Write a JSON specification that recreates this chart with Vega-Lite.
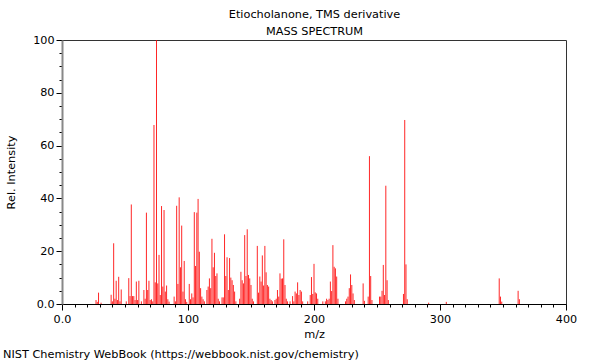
{
  "$schema": "https://vega.github.io/schema/vega-lite/v6.json",
  "width": 504,
  "height": 264,
  "autosize": {"type": "none"},
  "padding": {"left": 62, "top": 40, "right": 34, "bottom": 56},
  "background": "white",
  "config": {
    "font": "DejaVu Sans",
    "view": {"stroke": "#333", "strokeWidth": 1},
    "axis": {"labelFont": "DejaVu Sans", "titleFont": "DejaVu Sans", "labelFontSize": 11.2, "titleFontSize": 11.3, "titleFontWeight": "normal", "labelColor": "#000", "titleColor": "#000", "grid": false, "domainColor": "#000", "tickColor": "#000"}
  },
  "title": {"text": "NIST Chemistry WebBook (https://webbook.nist.gov/chemistry)", "orient": "bottom", "anchor": "start", "frame": "group", "dx": -59, "offset": 9, "fontSize": 11.3, "fontWeight": "normal", "font": "DejaVu Sans", "color": "#000"},
  "data": {"values": [
    {"mz":27,"intensity":1.5},{"mz":28,"intensity":0.8},{"mz":29,"intensity":4.3},{"mz":31,"intensity":0.5},
    {"mz":39,"intensity":3.5},{"mz":40,"intensity":1},{"mz":41,"intensity":23},{"mz":42,"intensity":2},{"mz":43,"intensity":8.8},{"mz":44,"intensity":1.5},{"mz":45,"intensity":10.3},{"mz":46,"intensity":1},{"mz":47,"intensity":5.5},
    {"mz":51,"intensity":1},{"mz":53,"intensity":9.8},{"mz":54,"intensity":3},{"mz":55,"intensity":37.7},{"mz":56,"intensity":3},{"mz":57,"intensity":3},{"mz":58,"intensity":1.5},{"mz":59,"intensity":8.5},{"mz":60,"intensity":1.5},{"mz":61,"intensity":8.8},{"mz":63,"intensity":1},
    {"mz":65,"intensity":5.3},{"mz":66,"intensity":2},{"mz":67,"intensity":34.6},{"mz":68,"intensity":5.3},{"mz":69,"intensity":8.8},{"mz":70,"intensity":1.5},{"mz":71,"intensity":1.8},{"mz":72,"intensity":1},{"mz":73,"intensity":67.8},{"mz":74,"intensity":8.2},{"mz":75,"intensity":100},{"mz":76,"intensity":7.8},{"mz":77,"intensity":18.6},{"mz":78,"intensity":3.4},{"mz":79,"intensity":37.1},{"mz":80,"intensity":6.6},{"mz":81,"intensity":35.6},{"mz":82,"intensity":4.7},{"mz":83,"intensity":7},{"mz":84,"intensity":1.8},{"mz":85,"intensity":0.9},
    {"mz":89,"intensity":2.8},{"mz":90,"intensity":1},{"mz":91,"intensity":37.2},{"mz":92,"intensity":7.6},{"mz":93,"intensity":40.4},{"mz":94,"intensity":13.9},{"mz":95,"intensity":29.7},{"mz":96,"intensity":4.7},{"mz":97,"intensity":16.3},{"mz":98,"intensity":1.8},{"mz":99,"intensity":0.8},
    {"mz":101,"intensity":7.6},{"mz":102,"intensity":1.8},{"mz":103,"intensity":4},{"mz":104,"intensity":2.5},{"mz":105,"intensity":34.8},{"mz":106,"intensity":14.4},{"mz":107,"intensity":34.6},{"mz":108,"intensity":39.8},{"mz":109,"intensity":19.8},{"mz":110,"intensity":6},{"mz":111,"intensity":2.8},{"mz":112,"intensity":1.8},{"mz":113,"intensity":1},
    {"mz":115,"intensity":5.3},{"mz":116,"intensity":6.6},{"mz":117,"intensity":9.7},{"mz":118,"intensity":6},{"mz":119,"intensity":24.7},{"mz":120,"intensity":13.9},{"mz":121,"intensity":19.4},{"mz":122,"intensity":10.6},{"mz":123,"intensity":11.6},{"mz":124,"intensity":2},{"mz":125,"intensity":1},
    {"mz":127,"intensity":2.5},{"mz":128,"intensity":2.5},{"mz":129,"intensity":26.4},{"mz":130,"intensity":10.6},{"mz":131,"intensity":17.7},{"mz":132,"intensity":5.3},{"mz":133,"intensity":17.4},{"mz":134,"intensity":10},{"mz":135,"intensity":9},{"mz":136,"intensity":7.2},{"mz":137,"intensity":4.7},{"mz":138,"intensity":1},
    {"mz":141,"intensity":2},{"mz":142,"intensity":12.2},{"mz":143,"intensity":9},{"mz":144,"intensity":7.8},{"mz":145,"intensity":26.1},{"mz":146,"intensity":10.6},{"mz":147,"intensity":28.3},{"mz":148,"intensity":11},{"mz":149,"intensity":9.7},{"mz":150,"intensity":7.2},{"mz":151,"intensity":2},{"mz":152,"intensity":1},
    {"mz":155,"intensity":22},{"mz":156,"intensity":4.3},{"mz":157,"intensity":10.4},{"mz":158,"intensity":8.5},{"mz":159,"intensity":18.4},{"mz":160,"intensity":7},{"mz":161,"intensity":22},{"mz":162,"intensity":12},{"mz":163,"intensity":7.2},{"mz":164,"intensity":6.6},{"mz":165,"intensity":2},{"mz":166,"intensity":1.5},{"mz":167,"intensity":1},
    {"mz":169,"intensity":1.5},{"mz":170,"intensity":2},{"mz":171,"intensity":5.3},{"mz":172,"intensity":2.8},{"mz":173,"intensity":11.6},{"mz":174,"intensity":9.6},{"mz":175,"intensity":9.7},{"mz":176,"intensity":24.5},{"mz":177,"intensity":7.2},{"mz":178,"intensity":2},{"mz":179,"intensity":1},{"mz":181,"intensity":1},
    {"mz":183,"intensity":3},{"mz":184,"intensity":1},{"mz":185,"intensity":4.7},{"mz":186,"intensity":4},{"mz":187,"intensity":8.2},{"mz":188,"intensity":3.4},{"mz":189,"intensity":5.3},{"mz":190,"intensity":4.7},{"mz":191,"intensity":1},{"mz":195,"intensity":1},
    {"mz":197,"intensity":3.4},{"mz":198,"intensity":10.2},{"mz":199,"intensity":3.8},{"mz":200,"intensity":15.2},{"mz":201,"intensity":4.4},{"mz":202,"intensity":4},{"mz":203,"intensity":2},
    {"mz":207,"intensity":1},{"mz":209,"intensity":1},{"mz":210,"intensity":2},{"mz":211,"intensity":1.5},{"mz":212,"intensity":2},{"mz":213,"intensity":8.5},{"mz":214,"intensity":4.9},{"mz":215,"intensity":22.3},{"mz":216,"intensity":14.1},{"mz":217,"intensity":13.5},{"mz":218,"intensity":10.4},{"mz":219,"intensity":2},
    {"mz":225,"intensity":1},{"mz":226,"intensity":2},{"mz":227,"intensity":2.8},{"mz":228,"intensity":6},{"mz":229,"intensity":11.2},{"mz":230,"intensity":7.2},{"mz":231,"intensity":4},{"mz":232,"intensity":1.5},
    {"mz":239,"intensity":7.8},{"mz":240,"intensity":1.2},{"mz":243,"intensity":2.8},{"mz":244,"intensity":56},{"mz":245,"intensity":10.6},{"mz":246,"intensity":1.5},
    {"mz":252,"intensity":2.8},{"mz":253,"intensity":2.8},{"mz":254,"intensity":5},{"mz":255,"intensity":14.8},{"mz":256,"intensity":3.4},{"mz":257,"intensity":44.8},{"mz":258,"intensity":9},{"mz":259,"intensity":1.5},
    {"mz":271,"intensity":3.8},{"mz":272,"intensity":69.7},{"mz":273,"intensity":15},{"mz":274,"intensity":1.8},
    {"mz":291,"intensity":0.5},{"mz":305,"intensity":0.8},
    {"mz":347,"intensity":9.7},{"mz":348,"intensity":2.8},{"mz":349,"intensity":0.9},
    {"mz":362,"intensity":5},{"mz":363,"intensity":1.8}
  ]},
  "layer": [
    {
      "mark": {"type": "rule", "color": "#ff0000", "strokeWidth": 1, "opacity": 0.85},
      "encoding": {
        "x": {"field": "mz", "type": "quantitative", "scale": {"domain": [0, 400], "nice": false, "zero": false},
          "axis": {"values": [0,10,20,30,40,50,60,70,80,90,100,110,120,130,140,150,160,170,180,190,200,210,220,230,240,250,260,270,280,290,300,310,320,330,340,350,360,370,380,390,400],
            "labelExpr": "datum.value % 100 === 0 ? (datum.value === 0 ? '0.0' : datum.label) : ''",
            "labelOverlap": false, "labelFlush": false, "labelPadding": 3,
            "tickSize": {"condition": {"test": "datum.value % 100 === 0", "value": 6}, "value": 3},
            "title": "m/z", "titlePadding": 4}},
        "y": {"field": "intensity", "type": "quantitative", "scale": {"domain": [0, 100], "nice": false},
          "axis": {"values": [0,5,10,15,20,25,30,35,40,45,50,55,60,65,70,75,80,85,90,95,100],
            "labelExpr": "datum.value % 20 === 0 ? (datum.value === 0 ? '0.0' : datum.label) : ''",
            "labelOverlap": false, "labelPadding": 2,
            "tickSize": {"condition": {"test": "datum.value % 20 === 0", "value": 6}, "value": 3},
            "domainColor": "#888", "domainWidth": 2,
            "title": "Rel. Intensity", "titlePadding": 16}},
        "y2": {"datum": 0}
      }
    },
    {
      "mark": {"type": "rule", "opacity": 0},
      "encoding": {
        "x": {"field": "mz", "type": "quantitative",
          "axis": {"orient": "top", "labels": false, "ticks": false, "domain": false,
            "title": ["Etiocholanone, TMS derivative", "MASS SPECTRUM"], "titleLineHeight": 17, "titlePadding": 4}}
      }
    }
  ],
  "resolve": {"axis": {"x": "independent"}}
}
